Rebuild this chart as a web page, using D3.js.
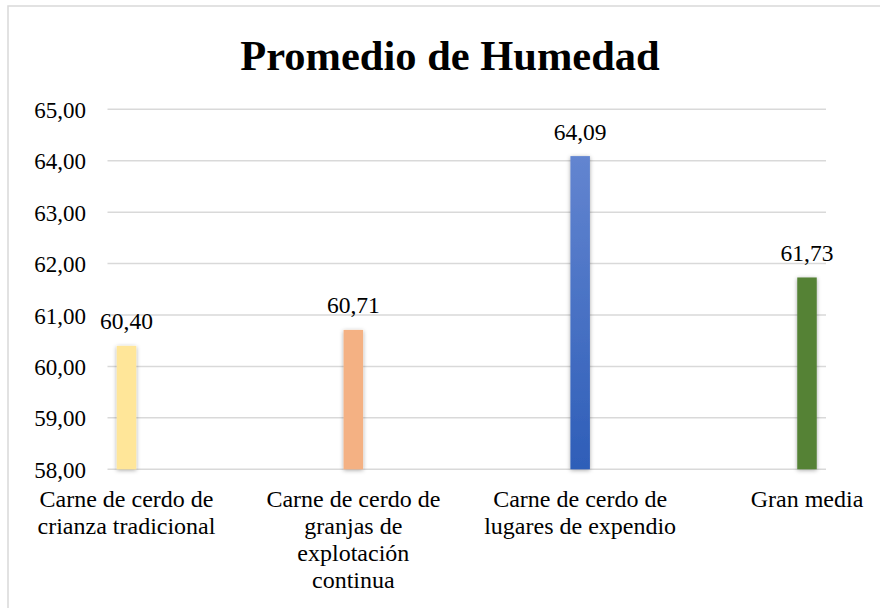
<!DOCTYPE html>
<html><head><meta charset="utf-8">
<script src="https://cdn.jsdelivr.net/npm/d3@7"></script>
<style>body{margin:0;background:#fff}svg{display:block}text{font-family:"Liberation Serif","Times New Roman",serif;fill:#000}</style>
</head><body>
<svg id="c" width="880" height="608"></svg>
<script>
const title = "Promedio de Humedad";
const categories = [
  ["Carne de cerdo de", "crianza tradicional"],
  ["Carne de cerdo de", "granjas de", "explotación", "continua"],
  ["Carne de cerdo de", "lugares de expendio"],
  ["Gran media"]
];
const values = [60.40, 60.71, 64.09, 61.73];
const colors = ["#ffe699", "#f4b183", "url(#blueGrad)", "#548235"];
const yTicks = [58, 59, 60, 61, 62, 63, 64, 65];

const svg = d3.select("#c");
const defs = svg.append("defs");
const g = defs.append("linearGradient").attr("id","blueGrad").attr("x1",0).attr("y1",0).attr("x2",0).attr("y2",1);
g.append("stop").attr("offset","0%").attr("stop-color","#6385d0");
g.append("stop").attr("offset","100%").attr("stop-color","#2e5eb8");
const f = defs.append("filter").attr("id","sh").attr("x","-50%").attr("y","-10%").attr("width","200%").attr("height","120%");
f.append("feDropShadow").attr("dx",0).attr("dy",1).attr("stdDeviation",2.2).attr("flood-color","#000").attr("flood-opacity",0.35);

svg.append("rect").attr("x",8).attr("y",6).attr("width",900).attr("height",700)
  .attr("fill","none").attr("stroke","#d9d9d9").attr("stroke-width",1.5);

const idx = categories.map((d,i)=>i);
const x = d3.scalePoint().domain(idx).range([126.5, 807]);
const y = d3.scaleLinear().domain([58, 65]).range([469.3, 109.3]);
const gridX0 = 107.5, gridX1 = 826;

svg.append("text").attr("x",450).attr("y",70).attr("text-anchor","middle")
  .attr("font-size",42.5).attr("font-weight","bold").text(title);

const yAxis = d3.axisLeft(y).tickValues(yTicks).tickSize(0).tickPadding(0)
  .tickFormat(d => d3.format(".2f")(d).replace(".", ","));
const ya = svg.append("g").attr("transform","translate(86,0)").call(yAxis);
ya.select(".domain").remove();
ya.attr("font-family",null);
ya.selectAll("text").attr("font-size",23).attr("fill","#000").attr("dy","0.35em");

svg.append("g").selectAll("line").data(yTicks).join("line")
  .attr("x1",gridX0).attr("x2",gridX1).attr("y1",d=>y(d)).attr("y2",d=>y(d))
  .attr("stroke","#d9d9d9").attr("stroke-width",1.5);

const bw = 19.5;
svg.append("g").selectAll("rect").data(values).join("rect")
  .attr("x",(d,i)=>x(i)-bw/2).attr("width",bw)
  .attr("y",d=>y(d)).attr("height",d=>y(58)-y(d))
  .attr("fill",(d,i)=>colors[i]).attr("filter","url(#sh)");

svg.append("g").selectAll("text").data(values).join("text")
  .attr("x",(d,i)=>x(i)).attr("y",d=>y(d)-16.5).attr("text-anchor","middle")
  .attr("font-size",23.5).text(d=>d3.format(".2f")(d).replace(".", ","));

const cl = svg.append("g").selectAll("text").data(categories).join("text")
  .attr("x",(d,i)=>x(i)).attr("y",507).attr("text-anchor","middle").attr("font-size",24);
cl.selectAll("tspan").data(d=>d).join("tspan")
  .attr("x",function(){return this.parentNode.getAttribute("x");})
  .attr("dy",(d,i)=>i===0?0:27).text(d=>d);
</script>
</body></html>
